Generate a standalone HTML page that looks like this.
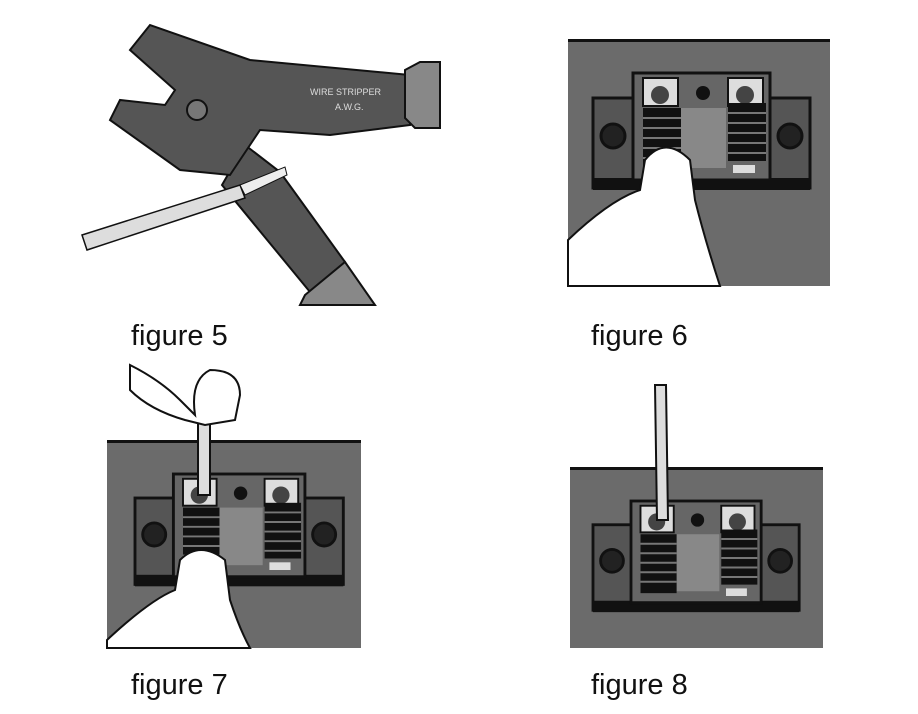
<!DOCTYPE html>
<html><head><style>
body{margin:0;background:#fff;width:918px;height:714px;overflow:hidden}
svg{position:absolute;left:0;top:0}
.t{font-family:"Liberation Sans",sans-serif;font-size:29px;fill:#111}
</style></head><body>
<svg width="918" height="714" viewBox="0 0 918 714">
<defs>
<g id="term">
  <rect x="0" y="25" width="217" height="90" fill="#555" stroke="#111" stroke-width="3"/>
  <rect x="0" y="105" width="217" height="12" fill="#111"/>
  <circle cx="20" cy="63" r="12" fill="#222" stroke="#111" stroke-width="3"/>
  <circle cx="197" cy="63" r="12" fill="#222" stroke="#111" stroke-width="3"/>
  <rect x="40" y="0" width="137" height="107" fill="#666" stroke="#111" stroke-width="3"/>
  <rect x="88" y="35" width="45" height="60" fill="#888"/>
  <circle cx="110" cy="20" r="7" fill="#111"/>
  <rect x="50" y="5" width="35" height="28" fill="#ddd" stroke="#111" stroke-width="2"/>
  <rect x="135" y="5" width="35" height="28" fill="#ddd" stroke="#111" stroke-width="2"/>
  <circle cx="67" cy="22" r="9" fill="#444"/><circle cx="152" cy="22" r="9" fill="#444"/>
  <g fill="#111">
   <rect x="50" y="35" width="38" height="62"/>
   <rect x="135" y="30" width="38" height="58"/>
  </g>
  <g stroke="#777" stroke-width="2">
   <line x1="50" y1="45" x2="88" y2="45"/><line x1="50" y1="55" x2="88" y2="55"/><line x1="50" y1="65" x2="88" y2="65"/><line x1="50" y1="75" x2="88" y2="75"/><line x1="50" y1="85" x2="88" y2="85"/>
   <line x1="135" y1="40" x2="173" y2="40"/><line x1="135" y1="50" x2="173" y2="50"/><line x1="135" y1="60" x2="173" y2="60"/><line x1="135" y1="70" x2="173" y2="70"/><line x1="135" y1="80" x2="173" y2="80"/>
  </g>
  <rect x="140" y="92" width="22" height="8" fill="#ddd"/>
</g>
</defs>
<!-- fig5 pliers -->
<path d="M245 145 L280 172 L345 262 L310 292 L222 185 Z" fill="#555" stroke="#111" stroke-width="2"/>
<path d="M130 50 L150 25 L250 60 L410 75 L410 125 L330 135 L260 130 L240 160 L230 175 L180 170 L110 120 L120 100 L165 105 L175 90 Z" fill="#555" stroke="#111" stroke-width="2"/>
<path d="M405 70 L420 62 L440 62 L440 128 L415 128 L405 118 Z" fill="#888" stroke="#111" stroke-width="2"/>
<path d="M305 295 L345 262 L375 305 L300 305 Z" fill="#888" stroke="#111" stroke-width="2"/>
<circle cx="197" cy="110" r="10" fill="#777" stroke="#111" stroke-width="2"/>
<text x="310" y="95" font-family="Liberation Sans" font-size="9" fill="#ddd">WIRE STRIPPER</text>
<text x="335" y="110" font-family="Liberation Sans" font-size="9" fill="#ddd">A.W.G.</text>
<path d="M82 235 L240 185 L245 198 L87 250 Z" fill="#ddd" stroke="#111" stroke-width="1.5"/>
<path d="M240 185 L285 167 L287 175 L245 195 Z" fill="#eee" stroke="#111" stroke-width="1"/>
<!-- fig6 -->
<rect x="568" y="40" width="262" height="246" fill="#6b6b6b"/>
<rect x="568" y="39" width="262" height="3" fill="#111"/>
<use href="#term" transform="translate(593,73)"/>
<path d="M568 240 Q610 200 640 190 L645 160 Q665 135 690 160 L695 200 Q705 240 720 286 L568 286 Z" fill="#fff" stroke="#111" stroke-width="2"/>
<!-- fig7 -->
<rect x="107" y="441" width="254" height="207" fill="#6b6b6b"/>
<rect x="107" y="440" width="254" height="3" fill="#111"/>
<use href="#term" transform="translate(135,474) scale(0.96)"/>
<rect x="198" y="400" width="12" height="95" fill="#ddd" stroke="#111" stroke-width="2"/>
<path d="M130 365 Q160 380 180 400 L195 415 Q190 380 210 370 Q240 370 240 395 L235 420 L205 425 L185 420 Q150 410 130 390 Z" fill="#fff" stroke="#111" stroke-width="2"/>
<path d="M107 640 Q150 600 175 590 L180 560 Q200 540 225 560 L230 600 Q240 630 250 648 L107 648 Z" fill="#fff" stroke="#111" stroke-width="2"/>
<!-- fig8 -->
<rect x="570" y="468" width="253" height="180" fill="#6b6b6b"/>
<rect x="570" y="467" width="253" height="3" fill="#111"/>
<use href="#term" transform="translate(593,501) scale(0.95)"/>
<path d="M655 385 L666 385 L668 520 L657 520 Z" fill="#ddd" stroke="#111" stroke-width="2"/>
<text class="t" x="131" y="345">figure 5</text>
<text class="t" x="591" y="345">figure 6</text>
<text class="t" x="131" y="694">figure 7</text>
<text class="t" x="591" y="694">figure 8</text>
</svg>
</body></html>
